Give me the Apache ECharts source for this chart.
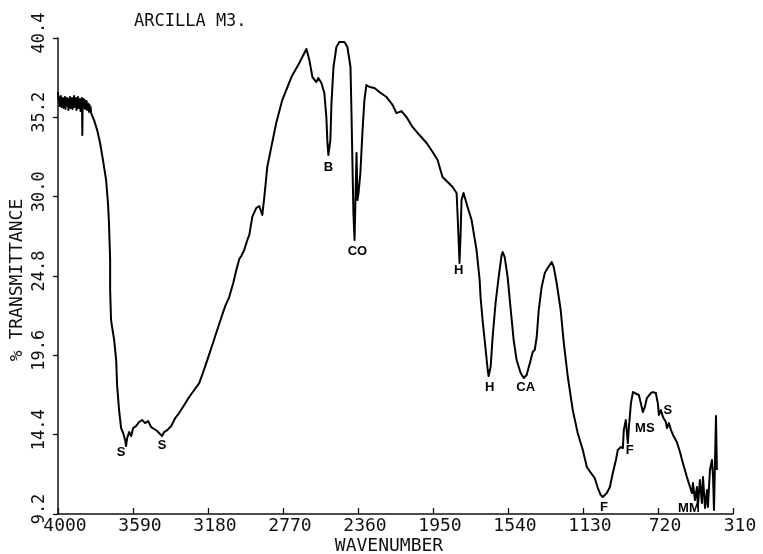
<!DOCTYPE html>
<html>
<head>
<meta charset="utf-8">
<title>ARCILLA M3.</title>
<script src="https://cdn.jsdelivr.net/npm/echarts@6/dist/echarts.min.js"></script>
<style>
  html, body { margin: 0; padding: 0; background: #ffffff; }
  #chart { width: 763px; height: 554px; }
</style>
</head>
<body>
<div id="chart"></div>
<script>
// IR transmission spectrum of clay sample M3 (wavenumber in cm-1, % transmittance)
const wavenumber = [
  4000, 3997, 3995, 3992, 3989, 3986, 3984, 3981, 3978, 3975, 3973, 3970, 3967, 3964, 3962, 3959,
  3956, 3954, 3951, 3948, 3945, 3943, 3940, 3937, 3934, 3932, 3929, 3926, 3923, 3921, 3918, 3915,
  3912, 3910, 3907, 3904, 3901, 3899, 3896, 3893, 3891, 3888, 3885, 3882, 3880, 3877, 3874, 3871,
  3869, 3867, 3865, 3863, 3860, 3858, 3855, 3852, 3849, 3847, 3844, 3841, 3839, 3836, 3833, 3830,
  3828, 3825, 3822, 3819,
  3803, 3786, 3770, 3754, 3737, 3726, 3721, 3715, 3715, 3710, 3693, 3682,
  3677, 3666, 3655, 3644, 3633, 3628, 3622, 3611, 3600, 3589, 3573, 3557, 3540, 3524, 3507, 3491,
  3474, 3458, 3442, 3431, 3420, 3403, 3381, 3359, 3338, 3310, 3283, 3255, 3228, 3206, 3184, 3162,
  3135, 3108, 3086, 3064, 3042, 3025, 3009, 2998, 2982, 2965, 2954, 2938, 2916, 2900, 2883, 2872,
  2856, 2834, 2807, 2774, 2724, 2681, 2653, 2642, 2626, 2609, 2588, 2577, 2560, 2544, 2533, 2527,
  2522, 2511, 2505, 2494, 2478, 2462, 2434, 2418, 2401, 2396, 2390, 2385, 2379, 2374, 2368, 2363,
  2357, 2347, 2336, 2325, 2314, 2297, 2270, 2243, 2204, 2171, 2150, 2122, 2095, 2062, 2024, 1985,
  1952, 1925, 1898, 1870, 1843, 1821, 1816, 1810, 1805, 1799, 1794, 1783, 1761, 1739, 1712, 1695,
  1690, 1679, 1662, 1651, 1646, 1635, 1624, 1608, 1591, 1575, 1569, 1558, 1542, 1525, 1509, 1493,
  1471, 1454, 1438, 1416, 1405, 1394, 1383, 1372, 1356, 1339, 1323, 1301, 1290, 1274, 1252, 1235,
  1213, 1186, 1159, 1131, 1109, 1087, 1066, 1049, 1033, 1022, 1000, 983, 967, 950, 940, 923,
  912, 907, 896, 885, 879, 868, 857, 846, 836, 825, 814, 803, 792, 781, 759, 748,
  732, 721, 715, 704, 693, 677, 671, 660, 649, 638, 617, 600, 584, 562, 545, 534,
  529, 518, 507, 502, 491, 480, 474, 463, 452, 447, 436, 425, 419, 414, 403, 398
];
const transmittance = [
  36.86, 36.34, 36.53, 35.94, 36.40, 36.07, 36.60, 35.88, 36.34, 36.14, 36.47, 35.81, 36.27, 36.01, 36.53, 35.75,
  36.34, 36.07, 36.47, 35.94, 36.20, 35.68, 36.40, 36.01, 36.53, 35.81, 36.27, 36.07, 36.47, 35.75, 36.34, 35.94,
  36.60, 35.88, 36.34, 36.07, 36.47, 35.68, 36.27, 36.01, 36.53, 35.81, 36.34, 36.14, 36.40, 35.61, 36.34, 35.94,
  36.47, 34.04, 36.20, 35.81, 36.40, 35.94, 36.34, 35.75, 36.20, 35.88, 36.27, 35.68, 36.14, 35.81, 36.07, 35.55,
  36.01, 35.68, 35.88, 35.48,
  35.02, 34.37, 33.52, 32.40, 31.09, 29.45, 28.14, 25.85, 23.88, 21.91, 20.60, 19.29,
  17.65, 16.01, 14.83, 14.51, 14.05, 13.65, 14.18, 14.57, 14.31, 14.83, 14.97, 15.23, 15.36, 15.16, 15.29, 14.90,
  14.77, 14.64, 14.44, 14.31, 14.57, 14.70, 14.97, 15.49, 15.82, 16.34, 16.87, 17.33, 17.78, 18.51, 19.29, 20.08,
  21.06, 22.05, 22.83, 23.42, 24.34, 25.19, 25.91, 26.11, 26.50, 27.16, 27.49, 28.67, 29.26, 29.39, 28.80, 29.98,
  31.94, 33.25, 34.83, 36.33, 37.84, 38.76, 39.42, 39.68, 38.96, 37.84, 37.51, 37.78, 37.45, 36.79, 35.22, 33.52,
  32.73, 33.71, 36.14, 38.50, 39.81, 40.14, 40.14, 39.81, 38.50, 35.68, 31.94, 28.93, 27.16, 29.78, 32.86, 29.78,
  30.24, 31.55, 34.17, 36.33, 37.32, 37.19, 37.12, 36.86, 36.53, 36.01, 35.48, 35.61, 35.22, 34.57, 34.04, 33.52,
  32.93, 32.40, 31.29, 30.96, 30.63, 30.24, 28.93, 27.16, 25.65, 27.62, 29.78, 30.24, 29.32, 28.47, 26.50, 24.54,
  23.42, 21.91, 19.95, 18.64, 18.24, 18.83, 20.80, 23.03, 24.73, 26.17, 26.37, 26.04, 24.73, 22.57, 20.60, 19.29,
  18.44, 18.11, 18.31, 19.29, 19.82, 19.95, 20.80, 22.57, 24.08, 24.99, 25.32, 25.72, 25.39, 24.34, 22.57, 20.41,
  18.18, 16.01, 14.51, 13.39, 12.28, 11.89, 11.56, 10.90, 10.44, 10.31, 10.57, 10.97, 11.89, 12.74, 13.39, 13.59,
  13.52, 14.70, 15.36, 13.85, 14.90, 16.47, 17.19, 17.13, 17.26, 17.00, 16.47, 15.88, 16.21, 16.80, 17.13, 17.19,
  17.13, 16.47, 15.69, 16.01, 15.56, 15.23, 14.83, 15.16, 14.70, 14.38, 13.92, 13.26, 12.54, 11.62, 10.97, 10.57,
  11.23, 10.11, 10.97, 9.66, 11.43, 9.92, 11.62, 9.59, 10.77, 9.66, 12.08, 12.74, 11.62, 9.46, 15.62, 12.08
];

// band assignments written under the absorption minima
const bandText = ['S', 'S', 'B', 'CO', 'H', 'H', 'CA', 'F', 'F', 'MS', 'S', 'MM'];
const bandWavenumber = [3655, 3431, 2522, 2363, 1810, 1640, 1443, 1016, 874, 792, 666, 551];
const bandTransmittance = [13.26, 13.72, 31.94, 26.44, 25.19, 17.52, 17.52, 9.66, 13.39, 14.83, 16.01, 9.59];

// axis scales
const xMin = 310, xMax = 4000, xStep = 410;
const yMin = 9.2, yMax = 40.4, yStep = 5.2;

const plotFont = '"DejaVu Sans Mono", monospace';

const spectrum = wavenumber.map((w, i) => [w, transmittance[i]]);
const bands = bandText.map((t, i) => ({ value: [bandWavenumber[i], bandTransmittance[i]], name: t }));

const chart = echarts.init(document.getElementById('chart'), null, { renderer: 'canvas' });
chart.setOption({
  backgroundColor: '#ffffff',
  animation: false,
  title: {
    text: 'ARCILLA M3.',
    left: 129,
    top: 8,
    textStyle: { fontFamily: plotFont, fontSize: 17, fontWeight: 'normal', color: '#111' }
  },
  grid: { left: 58, right: 30, top: 38, bottom: 40, containLabel: false },
  xAxis: {
    type: 'value',
    inverse: true,
    min: xMin,
    max: xMax,
    interval: xStep,
    axisLine: { show: true, lineStyle: { color: '#111', width: 1.5 } },
    axisTick: { show: true, inside: true, length: 6, lineStyle: { color: '#111', width: 1.3 } },
    splitLine: { show: false },
    axisLabel: {
      margin: 3,
      padding: [0, 0, 0, 14],
      fontFamily: plotFont,
      fontSize: 18,
      color: '#111',
      formatter: v => String(Math.round(v))
    }
  },
  yAxis: {
    type: 'value',
    min: yMin,
    max: yMax,
    interval: yStep,
    axisLine: { show: true, lineStyle: { color: '#111', width: 1.5 } },
    axisTick: { show: true, inside: false, length: 5, lineStyle: { color: '#111', width: 1.3 } },
    splitLine: { show: false },
    axisLabel: {
      rotate: 90,
      margin: 10,
      padding: [0, 0, 0, 10],
      fontFamily: plotFont,
      fontSize: 17,
      color: '#111',
      formatter: v => v.toFixed(1)
    }
  },
  graphic: [
    {
      type: 'text',
      x: 17, y: 280,
      rotation: Math.PI / 2,
      style: {
        text: '% TRANSMITTANCE',
        fontFamily: plotFont, fontSize: 18,
        fill: '#111', align: 'center', verticalAlign: 'middle'
      }
    },
    {
      type: 'text',
      x: 389, y: 546,
      style: {
        text: 'WAVENUMBER',
        fontFamily: plotFont, fontSize: 18,
        fill: '#111', align: 'center', verticalAlign: 'middle'
      }
    }
  ],
  series: [
    {
      type: 'line',
      data: spectrum,
      showSymbol: false,
      symbol: 'none',
      smooth: false,
      lineStyle: { color: '#000', width: 2, join: 'round' },
      z: 3
    },
    {
      type: 'scatter',
      data: bands,
      symbolSize: 0,
      itemStyle: { color: '#000', opacity: 1 },
      label: {
        show: true,
        position: 'inside',
        formatter: p => p.name,
        fontFamily: '"Liberation Sans", Arial, sans-serif',
        fontWeight: 'bold',
        fontSize: 13,
        color: '#000',
        opacity: 1,
        textBorderWidth: 0
      },
      z: 4
    }
  ]
});
</script>
</body>
</html>
